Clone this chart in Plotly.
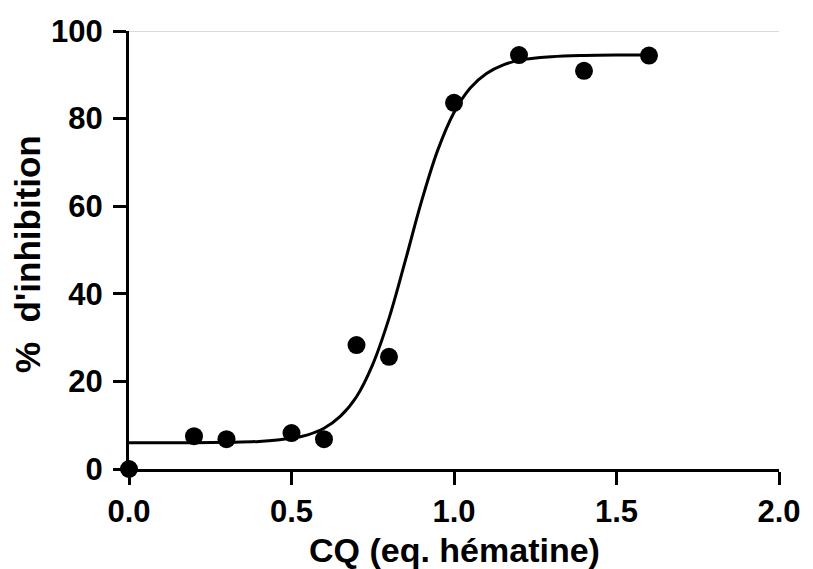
import plotly.graph_objects as go

# Measured data points
cq = [0, 0.2, 0.3, 0.5, 0.6, 0.7, 0.8, 1.0, 1.2, 1.4, 1.6]
inhibition = [0, 7.5, 6.8, 8.2, 6.8, 28.3, 25.6, 83.6, 94.5, 90.9, 94.4]

# Fitted curve
curve_x = [0, 0.1, 0.2, 0.3, 0.4, 0.5, 0.55, 0.6, 0.65, 0.7, 0.75, 0.8,
           0.85, 0.9, 0.95, 1.0, 1.05, 1.1, 1.15, 1.2, 1.3, 1.4, 1.5, 1.6]
curve_y = [6.0, 6.0, 6.0, 6.1, 6.3, 7.0, 7.8, 9.3, 12.0, 16.5, 23.9, 34.4,
           47.5, 61.1, 72.8, 81.4, 87.0, 90.3, 92.2, 93.3, 94.1, 94.4, 94.5, 94.5]

x_ticks = [0.0, 0.5, 1.0, 1.5, 2.0]
x_ticktext = ["0.0", "0.5", "1.0", "1.5", "2.0"]
y_ticks = [0, 20, 40, 60, 80, 100]

FONT = "Liberation Sans, Arial, Helvetica, sans-serif"

fig = go.Figure()
fig.add_trace(go.Scatter(
    x=curve_x, y=curve_y, mode="lines", line=dict(color="black", width=3, shape="spline"),
    hoverinfo="skip", showlegend=False, cliponaxis=False))
fig.add_trace(go.Scatter(
    x=cq, y=inhibition, mode="markers",
    marker=dict(color="black", size=18, symbol="circle"),
    showlegend=False, cliponaxis=False))

fig.add_shape(type="line", xref="x", yref="y", x0=0, x1=2, y0=100, y1=100,
              line=dict(color="#b8b8b8", width=1), layer="below")

axis_common = dict(
    showline=True, linecolor="black", linewidth=3,
    ticks="outside", ticklen=13, tickwidth=3, tickcolor="black",
    showgrid=False, zeroline=False,
    tickfont=dict(family=FONT, size=31, color="black", weight="bold"),
)

fig.update_xaxes(range=[0, 2], tickvals=x_ticks, ticktext=x_ticktext, **axis_common)
fig.update_yaxes(range=[0, 100], tickvals=y_ticks, ticklabelstandoff=4, **axis_common)

fig.add_annotation(text="CQ (eq. hématine)", xref="paper", yref="paper",
                   x=0.5, y=-0.186, xanchor="center", yanchor="middle", showarrow=False,
                   font=dict(family=FONT, size=34, color="black", weight="bold"))
fig.add_annotation(text="%  d'inhibition", xref="paper", yref="paper",
                   x=-0.156, y=0.49, xanchor="center", yanchor="middle", textangle=-90,
                   showarrow=False,
                   font=dict(family=FONT, size=35, color="black", weight="bold"))

fig.update_layout(
    width=813, height=569,
    margin=dict(l=129, r=25, t=31, b=100),
    paper_bgcolor="white", plot_bgcolor="white",
)

# remove the default page margin so the figure fills the window exactly
fig.write_html("out.html",
               config={"displayModeBar": False},
               post_script="document.body.style.margin='0';document.body.style.overflow='hidden';")
